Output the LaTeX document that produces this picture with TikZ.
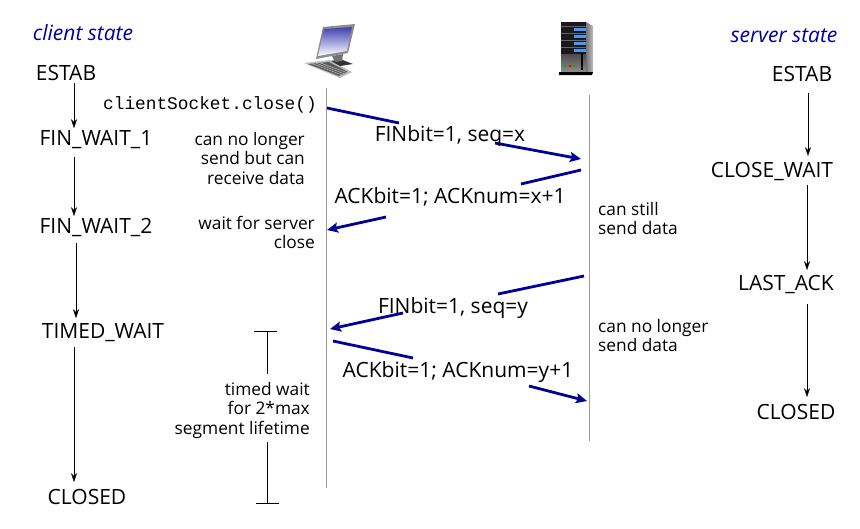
\documentclass[tikz,border=0pt]{standalone}
\usepackage{fontspec}
\setmainfont{Open Sans}
\setmonofont{Liberation Mono}
\usetikzlibrary{arrows.meta, positioning, calc}
\definecolor{msgblue}{HTML}{000099}
\definecolor{linegray}{HTML}{9A9A9A}
\tikzset{
  state/.style={font=\fontsize{21}{25}\selectfont, inner sep=0pt},
  note/.style={font=\fontsize{17.3}{19.5}\selectfont, inner sep=0pt, align=#1},
  note/.default=right,
  msglbl/.style={font=\fontsize{21}{25}\selectfont, inner sep=0pt},
  side/.style={font=\fontsize{21}{25}\selectfont\itshape, text=msgblue, inner sep=0pt},
  arr/.style={-{Stealth[length=9pt,width=6pt]}, thin, black},
  msg/.style={line width=2.8pt, msgblue},
  msgarr/.style={msg, -{Stealth[length=11pt,width=10pt,inset=2pt]}},
  life/.style={linegray, line width=1pt},
  tick/.style={black, line width=0.7pt},
}

\begin{document}
\begin{tikzpicture}[x=1pt, y=-1pt]
  \useasboundingbox (0,0) rectangle (860,528);

  % client and server columns
  \coordinate (clitop) at (326,88);
  \coordinate (clibot) at (326,488);
  \coordinate (srvtop) at (589,95);
  \coordinate (srvbot) at (589,441);
  \draw[life] (clitop) -- (clibot);
  \draw[life] (srvtop) -- (srvbot);

  % client states
  \node[side] (cstate) at (83,33) {client state};
  \node[state] (cestab) at (66,73) {ESTAB};
  \node[state] (finone) at (96,140) {FIN\_WAIT\_1};
  \node[state] (fintwo) at (96,228) {FIN\_WAIT\_2};
  \node[state] (timed) at (103,333) {TIMED\_WAIT};
  \node[state] (cclosed) at (87,497) {CLOSED};

  \draw[arr] ([xshift=8pt,yshift=-2.5pt]cestab.south) -- ([xshift=8pt,yshift=2.5pt]cestab.south |- finone.north);
  \draw[arr] ([xshift=-22pt,yshift=-7.5pt]finone.south) -- ([xshift=-22pt,yshift=2.5pt]finone.south |- fintwo.north);
  \draw[arr] ([xshift=-20pt,yshift=-5.5pt]fintwo.south) -- ([xshift=-20pt,yshift=5.5pt]fintwo.south |- timed.north);
  \draw[arr] ([xshift=-29pt,yshift=-4.5pt]timed.south) -- ([xshift=-29pt,yshift=7pt]timed.south |- cclosed.north);

  % server states
  \node[side] (sstate) at (784,36) {server state};
  \node[state] (sestab) at (802,74) {ESTAB};
  \node[state] (cwait) at (772,171) {CLOSE\_WAIT};
  \node[state] (lastack) at (786,285) {LAST\_ACK};
  \node[state] (sclosed) at (796,412) {CLOSED};

  \draw[arr] ([xshift=6pt,yshift=-11.5pt]sestab.south) -- ([xshift=6pt,yshift=5.5pt]sestab.south |- cwait.north);
  \draw[arr] ([xshift=35pt,yshift=-4.5pt]cwait.south) -- ([xshift=35pt,yshift=5.5pt]cwait.south |- lastack.north);
  \draw[arr] ([xshift=21pt,yshift=-9.5pt]lastack.south) -- ([xshift=21pt,yshift=7pt]lastack.south |- sclosed.north);

  % segments, each line broken round its label
  \coordinate (fa) at (327,108);
  \coordinate (fb) at (399,123);
  \coordinate (fc) at (495,143);
  \coordinate (fd) at (581,159);
  \coordinate (aa) at (581,170);
  \coordinate (ab) at (521,184);
  \coordinate (ac) at (386,217);
  \coordinate (ad) at (327,230);
  \coordinate (ga) at (584,276);
  \coordinate (gb) at (498,294);
  \coordinate (gc) at (403,313);
  \coordinate (gd) at (330,329);
  \coordinate (ha) at (333,341);
  \coordinate (hb) at (413,358);
  \coordinate (hc) at (529,386);
  \coordinate (hd) at (587,401);
  \draw[msg] (fa) -- (fb);
  \draw[msgarr] (fc) -- (fd);
  \draw[msg] (aa) -- (ab);
  \draw[msgarr] (ac) -- (ad);
  \draw[msg] (ga) -- (gb);
  \draw[msgarr] (gc) -- (gd);
  \draw[msg] (ha) -- (hb);
  \draw[msgarr] (hc) -- (hd);

  \node[msglbl] (finx) at (450,136) {FINbit=1, seq=x};
  \node[msglbl] (ackx) at (450,197) {ACKbit=1; ACKnum=x+1};
  \node[msglbl] (finy) at (453,308) {FINbit=1, seq=y};
  \node[msglbl] (acky) at (458,372) {ACKbit=1; ACKnum=y+1};

  % notes beside the columns
  \node[font=\ttfamily\fontsize{17.8}{20}\selectfont, inner sep=0pt, anchor=east] (closecall) at (317,105) {clientSocket.close()};
  \node[note, anchor=north east] (nosend) at (305,132) {can no longer\\send but can\\receive data};
  \node[note, anchor=north east] (waitsrv) at (315,216) {wait for server\\close};
  \node[note=left, anchor=north west] (stillsend) at (598,202) {can still\\send data};
  \node[note=left, anchor=north west] (nomore) at (598,319) {can no longer\\send data};
  \node[note, anchor=north east] (twait) at (310,382) {timed wait\\for 2*max\\segment lifetime};

  % timed wait bracket
  \coordinate (tta) at (267,331);
  \coordinate (ttb) at (267,503);
  \draw[tick] ([xshift=-13pt]tta) -- ([xshift=10pt]tta);
  \draw[tick] ([xshift=-11pt]ttb) -- ([xshift=12pt]ttb);
  \draw[tick] (tta) -- ([yshift=8pt]tta |- twait.north);
  \draw[tick] (ttb) -- ([yshift=-3pt]ttb |- twait.south);

  % desktop icon
  \fill[black!25] (304,63) -- (330,60) -- (352,72) -- (340,78) -- cycle;
  \fill[black!65] (308,64) -- (329,62) -- (348,72) -- (339,76) -- cycle;
  \foreach \k in {1,2,3} {
    \draw[black!25, line width=0.5pt] (308+\k*4,64-\k*0.4) -- (339+\k*3,76-\k);
  }
  \fill[black!80] (331,61) -- (340,59) -- (353,64) -- (340,66) -- cycle;
  \fill[black!55] (332,56) -- (343,54) -- (342,61) -- (335,62) -- cycle;
  \fill[black!45] (323,27) -- (355,24) -- (348,53) -- (316,59) -- cycle;
  \shade[top color=msgblue!75!white, bottom color=white]
    (324,29) -- (352,27) -- (347,51) -- (318,56) -- cycle;

  % server icon
  \shade[left color=black!55, right color=black!25] (586,22) -- (593,26) -- (593,72) -- (586,74) -- cycle;
  \fill[black!90] (561,22) -- (586,22) -- (586,54) -- (561,54) -- cycle;
  \foreach \y in {29,36,43,50} {
    \fill[blue!60!cyan!70] (574,\y-1.5) rectangle (586,\y+1.5);
    \draw[black!60, line width=0.6pt] (561,\y-3) -- (586,\y-3);
  }
  \shade[top color=black!70, bottom color=black!45] (561,54) rectangle (586,72);
  \fill[black] (559,72) -- (593,72) -- (592,75) -- (559,75) -- cycle;
  \fill[black] (581,53) rectangle (583,70);
  \fill[green!70!black] (565,66) circle (1.5);
  \fill[red] (570,66) circle (1.5);
  \fill[green!70!black] (574,66) circle (1.5);
\end{tikzpicture}
\end{document}
